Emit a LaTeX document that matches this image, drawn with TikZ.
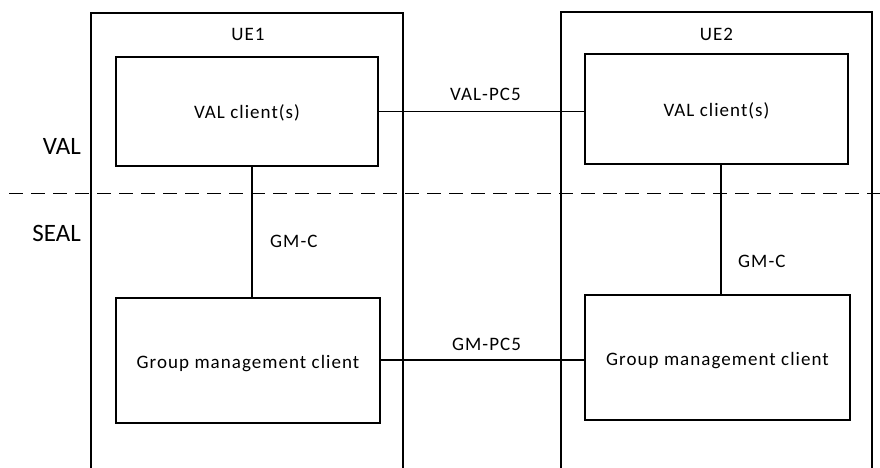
\documentclass[tikz,border=0pt]{standalone}
\usepackage{fontspec}
\setmainfont{Carlito}
\newfontfamily\spaced{Carlito}[LetterSpace=5.5]
\tikzset{
  box/.style={draw, line width=1.9pt, rectangle, inner sep=0pt},
  conn/.style={line width=1.9pt},
  ue/.style={line width=1.9pt},
  txt/.style={inner sep=0pt, font=\spaced\fontsize{19}{22}\selectfont, anchor=base},
  layer/.style={inner sep=0pt, font=\fontsize{25}{28}\selectfont, anchor=base east},
  sep/.style={line width=1.9pt, dash pattern=on 14pt off 8pt}
}
\begin{document}
\begin{tikzpicture}[x=1pt, y=-1pt]
\useasboundingbox (0,0) rectangle (880,468);
% UE frames (open at bottom)
\draw[ue] (91,468) -- (91,13) -- (403,13) -- (403,468);
\draw[ue] (561,468) -- (561,12) -- (872,12) -- (872,468);
% dashed separator
\draw[sep] (9,193.5) -- (880,193.5);
% boxes
\node[box, minimum width=262pt, minimum height=109pt] (val1) at (247,111.5) {};
\node[box, minimum width=263pt, minimum height=110pt] (val2) at (716.5,109) {};
\node[box, minimum width=264pt, minimum height=125pt] (gm1) at (248,360.5) {};
\node[box, minimum width=265pt, minimum height=125pt] (gm2) at (717.5,357.5) {};
% box texts
\node[txt] (tval1) at (247,119) {VAL client(s)};
\node[txt] (tval2) at (716.5,116.5) {VAL client(s)};
\node[txt] (tgm1) at (248,368) {Group management client};
\node[txt] (tgm2) at (717.5,365) {Group management client};
% frame titles
\node[txt] (ue1) at (248,41) {UE1};
\node[txt] (ue2) at (716.5,41) {UE2};
% layer labels
\node[layer] (lval) at (81,154) {VAL};
\node[layer] (lseal) at (81,241) {SEAL};
% connectors
\coordinate (x1) at (252,0);
\coordinate (x2) at (721,0);
\draw[conn] (val1.east) -- (val1.east -| val2.west);
\draw[conn] (gm1.east |- 0,360) -- (gm2.west |- 0,360);
\draw[conn] (val1.south -| x1) -- (gm1.north -| x1);
\draw[conn] (val2.south -| x2) -- (gm2.north -| x2);
% connector labels
\node[txt] (lpc5) at (485.5,101) {VAL-PC5};
\node[txt] (lgmpc5) at (486.5,350) {GM-PC5};
\node[txt, anchor=base west] (lgmc1) at (270,247) {GM-C};
\node[txt, anchor=base west] (lgmc2) at (738,267) {GM-C};
\end{tikzpicture}
\end{document}
